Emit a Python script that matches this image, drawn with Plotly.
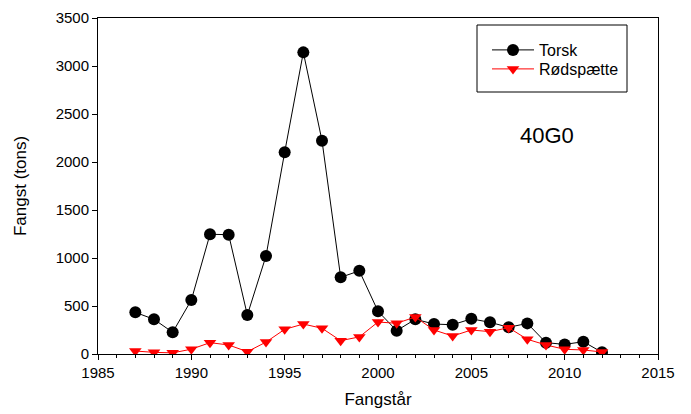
import plotly.graph_objects as go

years = list(range(1987, 2013))
torsk = [434, 361, 226, 562, 1247, 1243, 406, 1021, 2101, 3142, 2222, 799, 866,
         445, 243, 362, 312, 305, 366, 330, 278, 319, 118, 100, 128, 18]
rodspaette = [31, 17, 12, 50, 118, 94, 24, 124, 257, 312, 268, 139, 178,
              333, 320, 385, 250, 187, 250, 233, 274, 153, 94, 49, 42, 21]

series_names = ["Torsk", "Rødspætte"]
station_label = "40G0"
x_title = "Fangstår"
y_title = "Fangst (tons)"

FONT = "Arial, Liberation Sans, sans-serif"

fig = go.Figure()
fig.add_trace(go.Scatter(
    x=years, y=torsk, name=series_names[0], mode="lines+markers",
    line=dict(color="black", width=1),
    marker=dict(symbol="circle", size=12, color="black"),
    legend="legend",
))
fig.add_trace(go.Scatter(
    x=years, y=rodspaette, name=series_names[1], mode="lines+markers",
    line=dict(color="#ff0000", width=1),
    marker=dict(symbol="triangle-down", size=11, color="#ff0000"),
    legend="legend2",
))

axis_common = dict(
    showline=True, linecolor="black", linewidth=1, mirror=True,
    ticks="outside", ticklen=5, tickwidth=1, tickcolor="black",
    showgrid=False, zeroline=False, automargin=False,
    tickfont=dict(family=FONT, size=15, color="black"),
)

fig.update_xaxes(
    range=[1985, 2015], dtick=5, tick0=1985,
    minor=dict(dtick=1, ticks="outside", ticklen=3, tickcolor="black", showgrid=False),
    title=dict(text=x_title, font=dict(family=FONT, size=17, color="black"), standoff=13),
    **axis_common,
)
fig.update_yaxes(
    range=[0, 3500], dtick=500, tick0=0,
    title=dict(text=y_title, font=dict(family=FONT, size=17, color="black"), standoff=24),
    **axis_common,
)

fig.add_annotation(
    text=station_label, xref="paper", yref="paper", x=0.801, y=0.649,
    showarrow=False, font=dict(family=FONT, size=22, color="black"),
    xanchor="center", yanchor="middle",
)

# legend frame
fig.add_shape(
    type="rect", xref="paper", yref="paper",
    x0=(477 - 98) / 560, x1=(627 - 98) / 560,
    y0=(354 - 92) / 336, y1=(354 - 25) / 336,
    line=dict(color="black", width=1), fillcolor="white", layer="below",
)

leg_common = dict(
    xanchor="left", yanchor="top",
    bgcolor="rgba(0,0,0,0)", borderwidth=0,
    font=dict(family=FONT, size=16, color="black"),
    itemwidth=42,
)

fig.update_layout(
    width=683, height=406,
    margin=dict(l=90, r=33, t=10, b=60, autoexpand=False),
    paper_bgcolor="white", plot_bgcolor="white",
    font=dict(family=FONT, color="black"),
    showlegend=True,
    legend=dict(x=(487 - 98) / 560, y=(354 - 33) / 336, **leg_common),
    legend2=dict(x=(487 - 98) / 560, y=(354 - 52) / 336, **leg_common),
)

fig.write_html("out.html")
